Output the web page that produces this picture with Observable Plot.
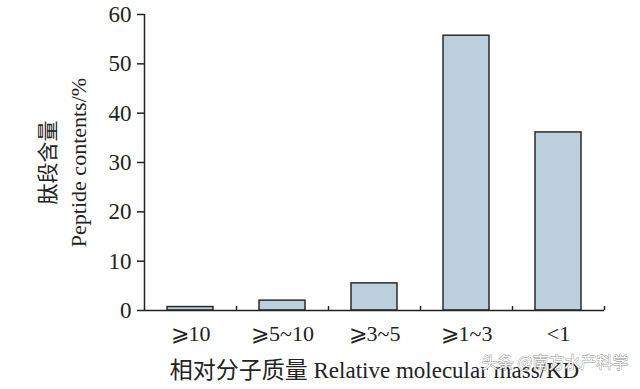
<!DOCTYPE html>
<html><head><meta charset="utf-8">
<script src="https://cdn.jsdelivr.net/npm/d3@7"></script>
<script src="https://cdn.jsdelivr.net/npm/@observablehq/plot@0.6"></script>
<style>body{margin:0;background:#fff}</style>
</head><body><div id="chart"></div>
<script>
const categories = ["⩾10", "⩾5~10", "⩾3~5", "⩾1~3", "<1"];
const contents = [0.7, 2.0, 5.5, 55.7, 36.1];
const yTicks = [0, 10, 20, 30, 40, 50, 60];
const yTitleCn = "肽段含量";
const yTitleEn = "Peptide contents/%";
const xTitle = "相对分子质量 Relative molecular mass/KD";
const watermark = "头条 @南方水产科学";

const data = categories.map((c, i) => ({cat: c, v: contents[i]}));
const serif = "'Liberation Serif', 'Noto Sans CJK SC', serif";
const cjk = "'Noto Sans CJK SC', sans-serif";

const chart = Plot.plot({
  width: 640, height: 389,
  marginLeft: 144, marginRight: 36, marginTop: 14, marginBottom: 79,
  style: {fontFamily: serif, color: "#222", background: "#fff"},
  x: {domain: categories, paddingInner: 0.5, paddingOuter: 0.25, label: null},
  y: {domain: [0, 60], label: null},
  marks: [
    Plot.barY(data, {x: "cat", y: "v", fill: "#bccfdc", stroke: "#2b2b2b", strokeWidth: 1.5}),
    Plot.ruleY([0], {stroke: "#222", strokeWidth: 1.5}),
    Plot.ruleX([categories[0]], {dx: -46, y1: 0, y2: 60, stroke: "#222", strokeWidth: 1.5}),
    Plot.ruleX(categories, {dx: 46, y1: 0, y2: 0.8, stroke: "#222", strokeWidth: 1.5}),
    Plot.axisY({ticks: yTicks, tickSize: 7, tickPadding: 6, fontSize: 23, label: null, stroke: "#222", strokeWidth: 1.5}),
    Plot.axisX({tickSize: 0, tickPadding: 15, fontSize: 22, label: null}),
    Plot.text([xTitle], {frameAnchor: "bottom", dy: 67, fontSize: 23, fontFamily: serif, fill: "#222"}),
    Plot.text([yTitleCn], {frameAnchor: "left", dx: -96, rotate: -90, textAnchor: "middle", fontSize: 21, fontFamily: cjk, fill: "#222"}),
    Plot.text([yTitleEn], {frameAnchor: "left", dx: -66, rotate: -90, textAnchor: "middle", fontSize: 22, fontFamily: serif, fill: "#222"}),
    Plot.text([watermark], {frameAnchor: "bottom-right", dx: 24, dy: 57, textAnchor: "end", fontSize: 16, fontFamily: cjk, fill: "#fff", stroke: "#888", strokeWidth: 0.8, paintOrder: "stroke"})
  ]
});
document.getElementById("chart").appendChild(chart);
</script></body></html>
